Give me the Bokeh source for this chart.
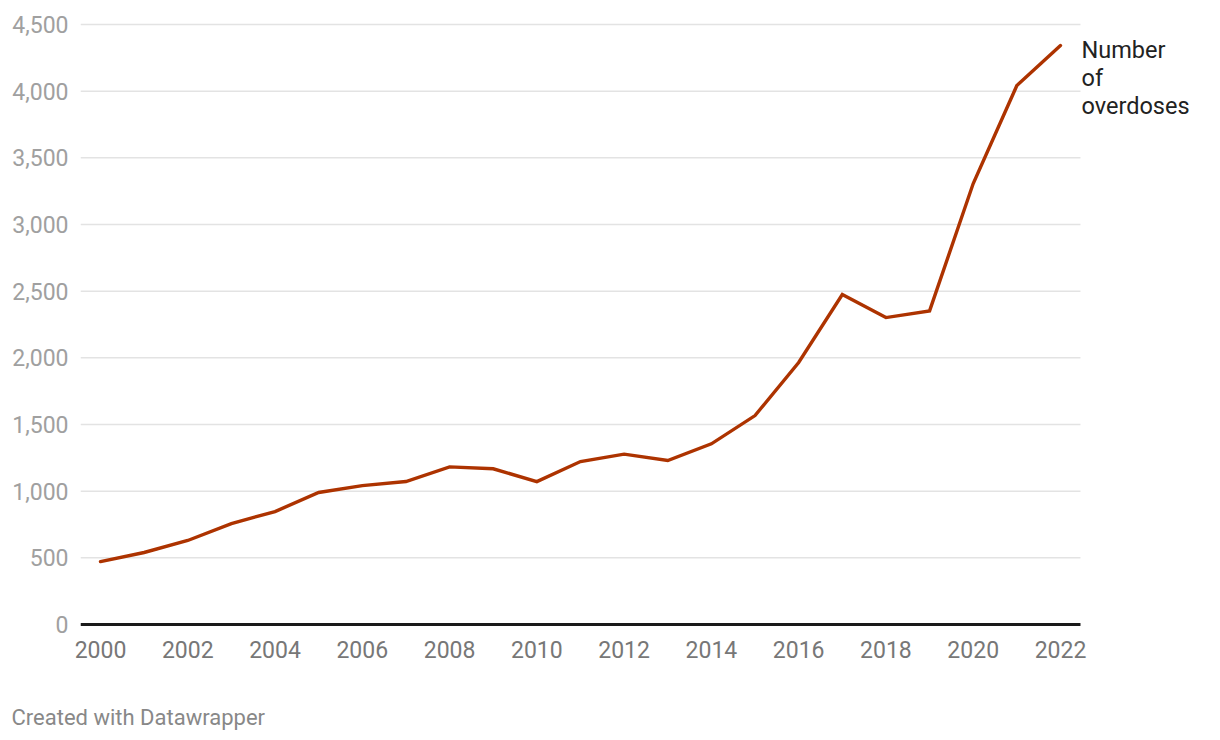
from bokeh.plotting import figure
from bokeh.models import Range1d, FixedTicker, NumeralTickFormatter, Title, ColumnDataSource
from bokeh.core.properties import value
from bokeh.embed import file_html
from bokeh.resources import INLINE

years = list(range(2000, 2023))
overdoses = [472, 540, 630, 757, 847, 990, 1042, 1072, 1182, 1168, 1072, 1222, 1278, 1230,
             1355, 1567, 1965, 2475, 2302, 2352, 3307, 4042, 4342]
y_ticks = [0, 500, 1000, 1500, 2000, 2500, 3000, 3500, 4000, 4500]
x_ticks = list(range(2000, 2023, 2))
series_label = "Number\nof\noverdoses"
footer = "Created with Datawrapper"

FONT = "Roboto"
LINE_COLOR = "#ad3300"

X0, X1 = 1999.542, 2022.458      # visible chart extent (grid/axis)
src = ColumnDataSource(dict(year=years, value=overdoses))
grid = ColumnDataSource(dict(x0=[X0] * len(y_ticks), x1=[X1] * len(y_ticks), y=y_ticks))

p = figure(width=1220, height=740, output_backend="svg", toolbar_location=None,
           x_range=Range1d(X0, 2025.667), y_range=Range1d(-30, 4530))
p.min_border_left = 80
p.min_border_right = 0
p.min_border_top = 20
p.min_border_bottom = 112
p.outline_line_color = None
p.background_fill_color = "white"
p.border_fill_color = "white"
p.xgrid.grid_line_color = None
p.ygrid.grid_line_color = None

ya = p.yaxis[0]
ya.ticker = FixedTicker(ticks=y_ticks)
ya.formatter = NumeralTickFormatter(format="0,0")
ya.axis_line_color = None
ya.major_tick_line_color = None
ya.minor_tick_line_color = None
ya.major_label_text_font = FONT
ya.major_label_text_font_size = "23px"
ya.major_label_text_color = "#a0a0a0"
ya.major_label_standoff = 6

xa = p.xaxis[0]
xa.ticker = FixedTicker(ticks=x_ticks)
xa.formatter = NumeralTickFormatter(format="0")
xa.axis_line_color = None
xa.major_tick_line_color = None
xa.minor_tick_line_color = None
xa.major_label_text_font = FONT
xa.major_label_text_font_size = "23px"
xa.major_label_text_color = "#777777"
xa.major_label_standoff = 6

# horizontal gridlines limited to chart extent
p.segment(x0="x0", x1="x1", y0="y", y1="y", source=grid, line_color="#e3e3e3", line_width=1.5)
# baseline
p.segment(x0=[X0], x1=[X1], y0=[0], y1=[0], line_color="#1a1a1a", line_width=3)

p.line("year", "value", source=src, line_color=LINE_COLOR, line_width=3.4,
       line_join="miter", line_cap="round")

p.text(x=[years[-1]], y=[overdoses[-1]], text=[series_label], x_offset=21, y_offset=-10,
       text_font=value(FONT), text_font_size="23.5px", text_color="#222222",
       text_baseline="top", text_align="left", text_line_height=1.0)

# empty spacer title to push the credit line down
p.add_layout(Title(text=" ", text_font_size="16px", standoff=18), "below")
p.add_layout(Title(text=footer, align="left", offset=-69, text_font=FONT,
                   text_font_size="22px", text_font_style="normal",
                   text_color="#888888", standoff=10), "below")

open("out.html", "w").write(file_html(p, INLINE))
